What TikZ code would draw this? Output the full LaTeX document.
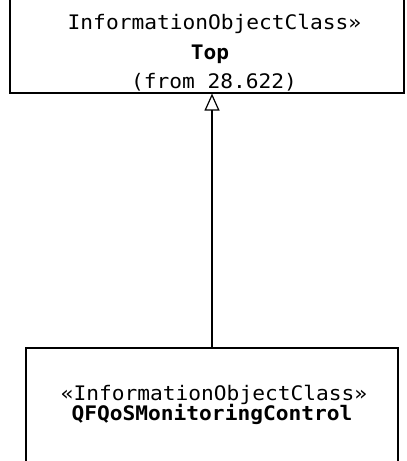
\documentclass[tikz,border=0pt]{standalone}
\usepackage{fontspec}
\newfontfamily\monof[FakeStretch=1.06]{DejaVu Sans Mono}
\usetikzlibrary{arrows.meta}
\begin{document}
\begin{tikzpicture}[x=1pt,y=1pt,
  umlbox/.style={draw,line width=1.2pt,rectangle,inner sep=0pt},
  lbl/.style={font=\monof\fontsize{20}{24}\selectfont,anchor=base,inner sep=0pt},
  blbl/.style={lbl,font=\monof\bfseries\fontsize{20}{24}\selectfont}]
\useasboundingbox (0,0) rectangle (407,461);
\clip (0,0) rectangle (407,461);
% top class (y image -> 461 - y)
\node[umlbox,minimum width=394pt,minimum height=120pt] (top) at (207,428) {};
\node[lbl] (t1) at (214.5,431.5) {InformationObjectClass»};
\node[blbl] (t2) at (210,401.5) {Top};
\node[lbl] (t3) at (214,372) {(from 28.622)};
% bottom class
\node[umlbox,minimum width=372pt,minimum height=132pt] (bot) at (212,47) {};
\node[lbl] (b1) at (214,60) {«InformationObjectClass»};
\node[blbl] (b2) at (212,40) {QFQoSMonitoringControl};
% generalization
\draw[line width=1.2pt,-{Triangle[open,length=17pt,width=15pt,line width=1.2pt]}] (bot.north) -- (bot.north |- top.south);
\end{tikzpicture}
\end{document}
